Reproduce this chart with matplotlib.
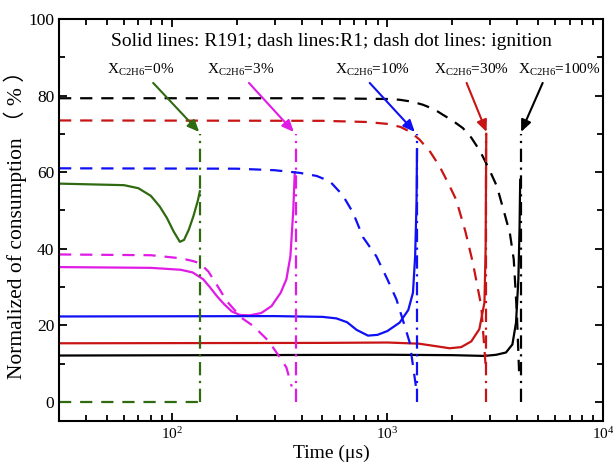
import matplotlib
matplotlib.use('Agg')
import matplotlib.pyplot as plt
from matplotlib.ticker import MultipleLocator

plt.rcParams['font.family'] = ['Liberation Serif', 'Noto Sans CJK SC']
plt.rcParams['mathtext.fontset'] = 'custom'
plt.rcParams['mathtext.rm'] = 'Liberation Serif'
plt.rcParams['mathtext.it'] = 'Liberation Serif:italic'

# colours per ethane fraction
green = '#2f6a10'
magenta = '#e11be6'
blue = '#1010f5'
red = '#c81414'
black = '#000000'

# solid lines: R191
t_g = [30, 60, 70, 80, 88, 95, 102, 109, 114, 120, 126, 132, 135]
y_g = [57, 56.6, 55.8, 53.8, 51, 48, 44.5, 41.8, 42.3, 45, 48.5, 52.5, 55]
t_m = [30, 80, 110, 125, 140, 150, 162, 175, 190, 207, 230, 260, 290, 320, 340, 355, 366, 372]
y_m = [35.2, 35, 34.5, 33.8, 32, 30, 27.6, 25.5, 23.6, 22.7, 22.6, 23.2, 25, 28.5, 32, 38, 50, 60]
t_b = [30, 300, 500, 580, 650, 720, 813, 900, 1000, 1140, 1250, 1314, 1345, 1365, 1372]
y_b = [22.3, 22.4, 22.2, 21.8, 20.8, 18.8, 17.3, 17.5, 18.5, 20.7, 24, 28.5, 38, 52, 66]
t_r = [30, 500, 1000, 1400, 1700, 1942, 2200, 2450, 2670, 2820, 2855, 2875]
y_r = [15.3, 15.4, 15.5, 15.2, 14.5, 14.0, 14.3, 15.8, 19, 26, 40, 70]
t_k = [30, 1000, 2000, 2820, 3200, 3550, 3800, 3950, 4050, 4100, 4130]
y_k = [12.1, 12.3, 12.2, 12.0, 12.3, 12.9, 15, 20.7, 32, 45, 58]

# dash lines: R1
td_g = [30, 135]
yd_g = [0, 0]
td_m = [30, 80, 110, 125, 135, 148, 160, 180, 210, 239, 280, 306, 340, 360]
yd_m = [38.5, 38.3, 37.5, 36.8, 36.2, 34, 31, 26.3, 22, 19.8, 16, 12.9, 9, 4]
td_b = [30, 200, 300, 393, 470, 541, 620, 693, 771, 889, 1000, 1101, 1200, 1269, 1362]
yd_b = [61, 60.9, 60.5, 59.8, 59, 57.6, 54, 49.4, 43, 38, 32, 26.8, 20, 15.5, 3.3]
td_r = [30, 500, 800, 1000, 1150, 1269, 1410, 1580, 1746, 1900, 2085, 2300, 2492, 2725, 2850]
yd_r = [73.5, 73.4, 73.1, 72.6, 71.8, 70.6, 68.5, 65.3, 61.5, 57.5, 52.8, 44.5, 36.3, 25, 10]
td_k = [30, 500, 1000, 1140, 1300, 1462, 1650, 1807, 2000, 2240, 2450, 2690, 2950, 3220,
        3500, 3700, 3855, 3985, 4080]
yd_k = [79.3, 79.3, 79.1, 78.9, 78.4, 77.6, 76.4, 75, 73.5, 71.5, 69, 65.5, 61, 56.3,
        49, 44, 37.2, 23.3, 8]

# dash dot lines: ignition
t_ign = [135, 376, 1370, 2870, 4150]
ign_colors = [green, magenta, blue, red, black]
labels = ['0%', '3%', '10%', '30%', '100%']
label_pos = [(72, 85.7), (209, 85.7), (855, 85.7), (2455, 85.7), (6280, 85.7)]
arrow_tail = [(82, 83.3), (228, 83.3), (828, 83.3), (2330, 83.3), (5250, 83.3)]
arrow_tip = [(134, 70.5), (368, 70.5), (1340, 70.5), (2884, 70.5), (4170, 70.5)]

fig = plt.figure(figsize=(6.13, 4.63), dpi=100)
ax = fig.add_axes([0.0963, 0.0907, 0.8874, 0.8683])

lw = 1.6
dash = (5.5, 4)
ddot = (6, 2.5, 1, 2.5)
for t, y, c in [(t_g, y_g, green), (t_m, y_m, magenta), (t_b, y_b, blue),
                (t_r, y_r, red), (t_k, y_k, black)]:
    ax.plot(t, y, '-', color=c, lw=lw)
for t, y, c in [(td_g, yd_g, green), (td_m, yd_m, magenta), (td_b, yd_b, blue),
                (td_r, yd_r, red), (td_k, yd_k, black)]:
    ax.plot(t, y, '--', color=c, lw=lw, dashes=dash)
for t, c in zip(t_ign, ign_colors):
    ax.plot([t, t], [0, 70], '-.', color=c, lw=lw, dashes=ddot)

for lab, pos, tail, tip, c in zip(labels, label_pos, arrow_tail, arrow_tip, ign_colors):
    ax.text(pos[0], pos[1], r'X$_{\mathrm{C2H6}}$=' + lab, fontsize=11,
            ha='center', va='baseline')
    ax.annotate('', xy=tip, xytext=tail,
                arrowprops=dict(arrowstyle='-|>,head_length=0.5,head_width=0.22',
                                color=c, lw=1.5, mutation_scale=14,
                                shrinkA=0, shrinkB=0))

ax.text(0.5, 0.943, 'Solid lines: R191; dash lines:R1; dash dot lines: ignition',
        transform=ax.transAxes, ha='center', va='center', fontsize=14)

ax.set_xscale('log')
ax.set_xlim(30, 1e4)
ax.set_ylim(-5, 100)
ax.yaxis.set_major_locator(MultipleLocator(20))
ax.yaxis.set_minor_locator(MultipleLocator(10))
ax.tick_params(which='both', direction='in', top=True, right=True, width=1.3)
ax.tick_params(which='major', length=6, labelsize=12.5)
ax.tick_params(which='minor', length=4)
ax.tick_params(axis='x', which='major', labelsize=11)
for s in ax.spines.values():
    s.set_linewidth(1.5)

ax.set_xlabel('Time (μs)', fontsize=14, labelpad=2)
ax.set_ylabel('Normalized of consumption （ % ）', fontsize=15.5, labelpad=1)

fig.savefig('out.png', dpi=100)
